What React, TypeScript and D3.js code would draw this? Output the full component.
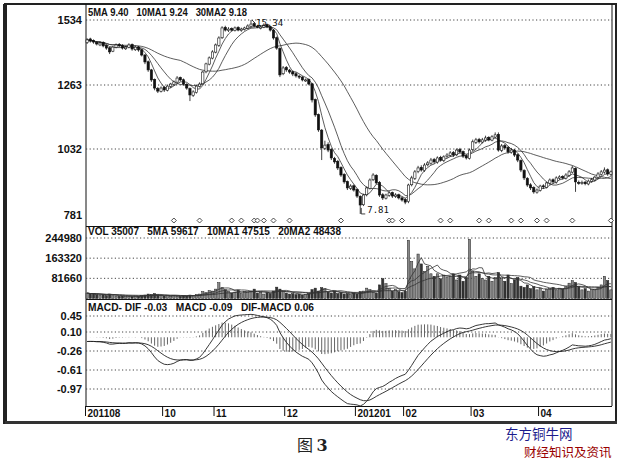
import React from "react";
import * as d3 from "d3";

// ---- data (prices x100, as on the axis) ----
const opens = [1440,1455,1448,1440,1430,1440,1428,1418,1404,1420,1432,1428,1414,1420,1432,1410,1422,1410,1388,1360,1326,1286,1250,1240,1255,1244,1258,1266,1275,1294,1285,1266,1250,1226,1236,1258,1268,1318,1350,1375,1400,1428,1460,1503,1490,1498,1490,1503,1490,1494,1500,1508,1519,1508,1500,1504,1515,1506,1492,1460,1415,1310,1336,1325,1318,1310,1300,1296,1282,1286,1268,1210,1156,1100,1034,1048,1030,996,985,962,935,908,882,892,878,852,820,858,882,915,932,905,858,845,856,866,852,858,846,840,832,896,920,946,962,950,972,978,992,982,1000,988,1003,1008,1018,1010,1030,1022,1006,996,1030,1056,1066,1057,1064,1074,1064,1075,1085,1027,1044,1037,1020,1027,1010,988,950,920,896,885,868,875,892,886,902,915,906,921,927,921,932,944,958,905,902,906,899,909,914,924,936,944,953,936];
const closes = [1451,1446,1442,1434,1438,1426,1417,1401,1421,1430,1426,1417,1421,1430,1413,1421,1409,1388,1359,1326,1284,1252,1241,1252,1245,1259,1267,1276,1292,1284,1267,1252,1227,1238,1259,1267,1317,1351,1376,1401,1430,1459,1501,1492,1496,1492,1501,1492,1496,1501,1509,1517,1509,1505,1505,1513,1505,1492,1459,1417,1305,1334,1326,1317,1309,1301,1296,1284,1284,1267,1209,1155,1101,1036,1046,1028,998,983,960,933,907,884,891,876,853,819,857,884,914,933,903,857,846,857,865,853,857,846,838,830,895,922,945,960,952,971,979,990,983,998,990,1002,1009,1017,1009,1028,1021,1005,998,1028,1058,1065,1058,1065,1072,1065,1076,1083,1028,1043,1036,1021,1028,1009,990,952,922,895,884,869,876,891,888,903,914,907,922,926,922,933,945,960,907,903,905,900,910,915,925,937,945,952,937,945];
const highs = [1458,1460,1453,1446,1444,1445,1432,1422,1426,1436,1438,1433,1427,1437,1436,1428,1426,1414,1392,1365,1330,1290,1256,1258,1260,1265,1272,1282,1300,1298,1290,1270,1254,1244,1264,1274,1322,1356,1382,1408,1436,1466,1508,1510,1504,1503,1507,1508,1502,1506,1516,1534,1524,1514,1511,1520,1519,1510,1496,1465,1420,1342,1342,1330,1324,1316,1306,1300,1290,1290,1272,1214,1160,1104,1062,1056,1034,1002,990,966,940,912,898,897,882,856,862,890,920,940,936,910,864,862,872,870,864,862,850,845,900,930,952,968,970,978,986,998,998,1004,1006,1008,1016,1024,1024,1034,1036,1026,1012,1034,1066,1072,1072,1072,1080,1078,1082,1092,1092,1050,1050,1042,1036,1032,1014,992,955,925,902,890,882,896,898,908,920,920,928,932,932,940,952,968,962,912,912,910,916,922,930,944,952,962,958,950];
const lows = [1434,1440,1435,1428,1425,1420,1410,1392,1400,1416,1420,1411,1409,1416,1406,1405,1402,1382,1350,1318,1276,1244,1234,1236,1238,1240,1252,1260,1270,1278,1262,1246,1205,1220,1232,1254,1264,1312,1345,1370,1395,1422,1455,1486,1484,1486,1486,1487,1485,1490,1496,1504,1503,1500,1495,1500,1500,1486,1452,1410,1296,1304,1318,1310,1300,1294,1288,1278,1276,1262,1200,1148,1094,990,1028,1020,990,976,952,926,900,876,876,870,846,785,815,852,878,910,898,850,838,840,850,846,846,840,832,822,826,890,914,940,946,945,966,972,976,976,984,982,998,1002,1002,1005,1015,998,992,992,1024,1050,1052,1052,1058,1060,1060,1070,1022,1020,1030,1014,1014,1002,982,944,914,888,876,862,862,870,880,882,896,900,900,915,916,916,926,940,869,896,896,894,894,904,908,918,930,938,930,930];
const volumes = [22000,18000,20000,16000,14000,15000,12000,18000,11000,10000,9000,10000,8000,9000,8000,10000,9000,12000,14000,18000,16000,20000,15000,12000,10000,11000,9000,12000,10000,9000,11000,10000,14000,12000,16000,18000,28000,24000,32000,30000,38000,64000,45000,36000,30000,22000,26000,34000,20000,28000,24000,30000,38000,22000,26000,18000,24000,20000,30000,46000,38000,28000,22000,18000,20000,16000,18000,14000,16000,20000,36000,42000,30000,44000,40000,26000,22000,30000,20000,24000,18000,20000,16000,22000,18000,28000,30000,42000,36000,26000,22000,55000,80000,60000,40000,30000,36000,28000,24000,30000,236000,150000,120000,180000,140000,110000,130000,100000,90000,100000,80000,95000,85000,90000,100000,75000,95000,70000,85000,240000,110000,90000,100000,80000,75000,90000,70000,85000,105000,80000,70000,95000,60000,75000,85000,50000,45000,55000,40000,48000,35000,42000,30000,38000,40000,45000,35000,42000,38000,48000,62000,72000,65000,48000,35000,40000,30000,36000,36000,45000,55000,90000,73000,35007];

const priceTicks = [1534, 1263, 1032, 781];
const priceGrid = [1534, 1263, 1032];
const volTicks = [244980, 163320, 81660];
const macdTicks = [0.45, 0.10, -0.26, -0.61, -0.97];
const macdTickLabels = ["0.45", "0.10", "-0.26", "-0.61", "-0.97"];
const monthLabels = ["201108", "10", "11", "12", "201201", "02", "03", "04"];
const monthStarts = [0, 24, 40, 62, 84, 99, 120, 141];
const signalIdx = [27, 35, 45, 48, 52, 53, 55, 58, 63, 79, 94, 95, 98, 110, 113, 122, 125, 132, 135, 140, 143, 151, 163];
const priceHeader = "5MA 9.40   10MA1 9.24   30MA2 9.18";
const volHeader = "VOL 35007   5MA 59617   10MA1 47515   20MA2 48438";
const macdHeader = "MACD- DIF -0.03   MACD -0.09   DIF-MACD 0.06";
const highLabel = "15.34";
const lowLabel = "7.81";
// initial EMA state (yuan)
const macdSeed = { difOffset: -0.08, dea: -0.08 };

const N = closes.length;
const L = 86, R = 612;

function ma(arr: number[], n: number) {
  return arr.map((_, i) => {
    const s = arr.slice(Math.max(0, i - n + 1), i + 1);
    return d3.mean(s) as number;
  });
}

export default function App() {
  const x = d3.scaleBand<number>().domain(d3.range(N)).range([L, R]).paddingInner(0.3);
  const bw = x.bandwidth();
  const cx = (i: number) => (x(i) as number) + bw / 2;
  const yP = d3.scaleLinear().domain([781, 1032, 1263, 1534]).range([215, 149, 85, 20]);
  const yV = d3.scaleLinear().domain([0, 244980]).range([298.5, 238]);
  const yM = d3.scaleLinear().domain([-0.97, -0.61, -0.26, 0.10, 0.45]).range([389, 370, 351, 332, 316]);

  const ma5 = ma(closes, 5), ma10 = ma(closes, 10), ma30 = ma(closes, 30);
  const v5 = ma(volumes, 5), v10 = ma(volumes, 10), v20 = ma(volumes, 20);

  // MACD from closes (yuan)
  const dif: number[] = [], dea: number[] = [];
  let e12 = closes[0] / 100, e26 = closes[0] / 100 - macdSeed.difOffset, de = macdSeed.dea;
  closes.forEach((c, i) => {
    const p = c / 100;
    if (i > 0) {
      e12 = (e12 * 11 + p * 2) / 13;
      e26 = (e26 * 25 + p * 2) / 27;
    }
    const d = e12 - e26;
    if (i > 0) de = (de * 8 + d * 2) / 10;
    dif.push(d);
    dea.push(de);
  });

  const lineP = (arr: number[]) => d3.line<number>().x((_, i) => cx(i)).y((v) => yP(v))(arr) as string;
  const lineV = (arr: number[]) => d3.line<number>().x((_, i) => cx(i)).y((v) => yV(v))(arr) as string;
  const lineM = (arr: number[]) => d3.line<number>().x((_, i) => cx(i)).y((v) => yM(v))(arr) as string;

  const hiIdx = d3.maxIndex(highs);
  const loIdx = d3.minIndex(lows);
  const axisFont = { fontFamily: "Liberation Sans, Arial, sans-serif", fontWeight: 700 as const, fill: "#111" };
  const pre = { whiteSpace: "pre" as const };

  return (
    <svg width={620} height={464} style={{ position: "absolute", left: 0, top: 0, background: "#fff" }}>
      <rect x={0} y={0} width={620} height={464} fill="#fff" />
      {/* outer frame */}
      <rect x={5} y={4} width={611} height={419} fill="none" stroke="#222" strokeWidth={2} />
      <rect x={3} y={4} width={4} height={420} fill="#222" />
      <line x1={5} x2={617} y1={422.5} y2={422.5} stroke="#333" strokeWidth={3} />
      {/* panels */}
      <line x1={L} x2={L} y1={4} y2={406} stroke="#111" strokeWidth={1} />
      <line x1={R} x2={R} y1={4} y2={406} stroke="#111" strokeWidth={1} />
      <line x1={L} x2={R} y1={226.5} y2={226.5} stroke="#111" strokeWidth={1} />
      <line x1={L} x2={R} y1={299.5} y2={299.5} stroke="#111" strokeWidth={1} />
      <line x1={L} x2={R} y1={406.5} y2={406.5} stroke="#111" strokeWidth={1} />

      {/* grids */}
      {priceGrid.map((t) => (
        <line key={"pg" + t} x1={L} x2={R} y1={yP(t)} y2={yP(t)} stroke="#444" strokeDasharray="1.2 2.4" />
      ))}
      {volTicks.map((t) => (
        <line key={"vg" + t} x1={L} x2={R} y1={yV(t)} y2={yV(t)} stroke="#444" strokeDasharray="1.2 2.4" />
      ))}
      {macdTicks.map((t) => (
        <line key={"mg" + t} x1={L} x2={R} y1={yM(t)} y2={yM(t)} stroke="#444" strokeDasharray="1.2 2.4" />
      ))}

      {/* axis labels */}
      {priceTicks.map((t) => (
        <text key={"pt" + t} x={82} y={yP(t) + 4} textAnchor="end" fontSize={11} {...axisFont}>{t}</text>
      ))}
      {volTicks.map((t) => (
        <text key={"vt" + t} x={82} y={yV(t) + 4} textAnchor="end" fontSize={11} {...axisFont}>{t}</text>
      ))}
      {macdTicks.map((t, k) => (
        <text key={"mt" + t} x={82} y={yM(t) + 4} textAnchor="end" fontSize={11} {...axisFont}>{macdTickLabels[k]}</text>
      ))}

      {/* headers */}
      <text x={88} y={16} fontSize={10} textLength={159} lengthAdjust="spacingAndGlyphs" style={pre} {...axisFont}>{priceHeader}</text>
      <text x={88} y={235} fontSize={10} textLength={253} lengthAdjust="spacingAndGlyphs" style={pre} {...axisFont}>{volHeader}</text>
      <text x={88} y={311} fontSize={10} textLength={226} lengthAdjust="spacingAndGlyphs" style={pre} {...axisFont}>{macdHeader}</text>

      {/* MAs */}
      {[ma5, ma10, ma30].map((m, k) => (
        <path key={"ma" + k} d={lineP(m)} fill="none" stroke="#333" strokeWidth={0.8} />
      ))}
      {/* candles */}
      {closes.map((c, i) => {
        const o = opens[i];
        const up = c >= o;
        const top = yP(Math.max(o, c));
        const bot = yP(Math.min(o, c));
        return (
          <g key={"c" + i}>
            <line x1={cx(i)} x2={cx(i)} y1={yP(highs[i])} y2={yP(lows[i])} stroke="#111" strokeWidth={0.8} />
            <rect x={x(i)} y={top} width={bw} height={Math.max(1, bot - top)}
              fill={up ? "#fff" : "#111"} stroke="#111" strokeWidth={0.6} />
          </g>
        );
      })}
      {/* high / low annotations */}
      <line x1={cx(hiIdx) + 1} y1={yP(highs[hiIdx])} x2={cx(hiIdx) + 4} y2={yP(highs[hiIdx]) + 3} stroke="#111" strokeWidth={0.8} />
      <text x={cx(hiIdx) + 5} y={yP(highs[hiIdx]) + 6} fontSize={9} fontFamily="DejaVu Sans Mono, monospace" fill="#111">{highLabel}</text>
      <path d={`M${cx(loIdx) + 1},${yP(lows[loIdx]) - 6} L${cx(loIdx) + 1},${yP(lows[loIdx])} L${cx(loIdx) + 5},${yP(lows[loIdx])}`} fill="none" stroke="#111" strokeWidth={0.8} />
      <text x={cx(loIdx) + 7} y={yP(lows[loIdx]) - 1} fontSize={9} fontFamily="DejaVu Sans Mono, monospace" fill="#111">{lowLabel}</text>

      {/* signal markers */}
      {signalIdx.map((i) => (
        <path key={"s" + i} d={`M${cx(i)},218 L${cx(i) + 2.5},220.5 L${cx(i)},223 L${cx(i) - 2.5},220.5 Z`} fill="#fff" stroke="#222" strokeWidth={0.8} />
      ))}

      {/* volume */}
      {volumes.map((v, i) => {
        const up = closes[i] >= opens[i];
        return (
          <rect key={"v" + i} x={x(i)} y={yV(v)} width={bw} height={yV(0) - yV(v)}
            fill={up ? "#888" : "#333"} stroke="#222" strokeWidth={0.5} />
        );
      })}
      {[v5, v10, v20].map((m, k) => (
        <path key={"vm" + k} d={lineV(m)} fill="none" stroke="#333" strokeWidth={0.8} />
      ))}

      {/* MACD histogram */}
      {dif.map((d, i) => (
        <line key={"h" + i} x1={cx(i)} x2={cx(i)} y1={yM(0)} y2={yM(d - dea[i])} stroke="#555" strokeWidth={0.9} />
      ))}
      <path d={lineM(dif)} fill="none" stroke="#222" strokeWidth={0.9} />
      <path d={lineM(dea)} fill="none" stroke="#222" strokeWidth={0.9} />

      {/* x axis */}
      {monthStarts.map((s, k) => (
        <g key={"m" + k}>
          <line x1={(x(s) as number) - 0.5} x2={(x(s) as number) - 0.5} y1={406} y2={416} stroke="#111" strokeWidth={1} />
          <text x={(x(s) as number) + 1.5} y={417} fontSize={10} {...axisFont}>{monthLabels[k]}</text>
        </g>
      ))}

      {/* caption */}
      <text x={297} y={451} fontSize={16} fontFamily="Noto Sans CJK SC" fill="#222">
        图 <tspan fontFamily="DejaVu Serif, serif" fontWeight="bold">3</tspan>
      </text>
      <text x={505} y={439} fontSize={13.5} fontFamily="Noto Sans CJK SC" fill="#1c1c8c">东方铜牛网</text>
      <text x={524} y={457} fontSize={12.5} fontFamily="Noto Sans CJK SC" fill="#990000">财经知识及资讯</text>
    </svg>
  );
}
